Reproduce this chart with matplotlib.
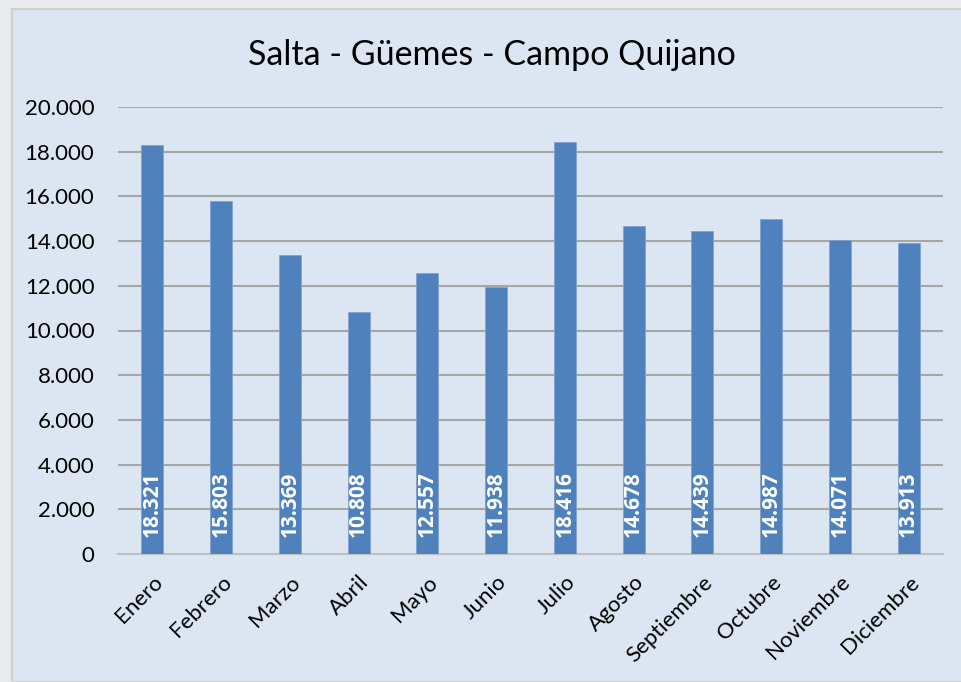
import matplotlib
matplotlib.use("Agg")
import matplotlib.pyplot as plt
from matplotlib.patches import Rectangle
from matplotlib.ticker import FuncFormatter

months = ["Enero", "Febrero", "Marzo", "Abril", "Mayo", "Junio", "Julio",
          "Agosto", "Septiembre", "Octubre", "Noviembre", "Diciembre"]
values = [18321, 15803, 13369, 10808, 12557, 11938, 18416,
          14678, 14439, 14987, 14071, 13913]
title = "Salta - Güemes - Campo Quijano"

plt.rcParams['font.family'] = ['Lato', 'DejaVu Sans']

W, H = 961, 682
fig = plt.figure(figsize=(W/100, H/100), dpi=100)
fig.patch.set_facecolor('#e9eaee')
bg = Rectangle((12/W, 0), 1, 1 - 9/H, transform=fig.transFigure,
               facecolor='#dce6f2', edgecolor='#d0d0d0', lw=1.5, zorder=-10)
fig.add_artist(bg)

ax = fig.add_axes([118/W, 1 - 554/H, (943-118)/W, (554-107)/H])
ax.set_zorder(1)
ax.set_facecolor('none')
x = range(len(months))
bars = ax.bar(x, values, width=0.32, color='#4f81bd', edgecolor='#7fa3d1', lw=0.6, zorder=3)
ax.set_xlim(-0.5, len(months) - 0.5)
ax.set_ylim(0, 20000)
ax.set_yticks(range(0, 20001, 2000))
ax.yaxis.set_major_formatter(FuncFormatter(lambda v, p: f"{int(v):,}".replace(",", ".")))
ax.grid(axis='y', color='#a6a6a6', lw=1.5, zorder=0)
for s in ['top', 'right', 'left']:
    ax.spines[s].set_visible(False)
ax.spines['bottom'].set_color('#c0c0c0')
ax.spines['bottom'].set_linewidth(1.5)
ax.tick_params(axis='y', length=0, labelsize=16, pad=17)
ax.tick_params(axis='x', length=0, labelsize=16, pad=13)
ax.set_xticks(list(x))
ax.set_xticklabels(months, rotation=45, ha='right', rotation_mode='anchor')
for i, v in enumerate(values):
    ax.text(i, 760, f"{v:,}".replace(",", "."), rotation=90, ha='center', va='bottom',
            color='white', fontsize=15, fontweight='bold', zorder=4,
            family=['Open Sans', 'DejaVu Sans'])

fig.text(492/W, 1 - 55/H, title, ha='center', va='center', fontsize=24.5, zorder=2)
fig.savefig("out.png", dpi=100, facecolor=fig.get_facecolor())
